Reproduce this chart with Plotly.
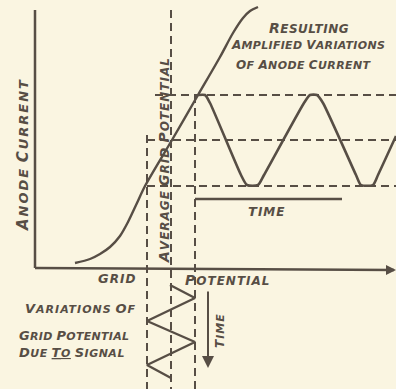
import plotly.graph_objects as go

# ---------------- data (diagram units: x = grid potential, y = anode current / time) ----------------
# valve characteristic (anode current vs grid potential)
curve_grid = [40, 55, 65, 75, 85, 93, 102, 110, 137, 163, 185, 198, 208, 215, 223]
curve_anode = [5, 9, 14, 21, 32, 46, 65, 82, 128, 173, 211, 235, 250, 257, 261]

# resulting amplified anode-current variations (time runs to the right)
out_time = [163, 170, 175, 206, 212, 223, 229, 269, 275, 282, 288, 321, 326, 338, 343, 361]
out_current = [173, 173, 165, 93, 83, 83, 93, 165, 173, 173, 165, 93, 83, 83, 93, 132]

# grid-potential variations due to signal (time runs downward)
sig_grid = [135, 160, 112, 160, 112, 136]
sig_time = [-17, -30, -53, -74, -97, -110]

# reference levels
grid_min, grid_avg, grid_max = 112, 136, 160
anode_min, anode_avg, anode_max = 82, 128, 173

INK = "#574e45"
BG = "#faf5e1"
FONT = "DejaVu Sans"

fig = go.Figure()

def line(xs, ys, dash=None, width=2.2, shape="linear", smoothing=1.0):
    fig.add_trace(go.Scatter(
        x=xs, y=ys, mode="lines", hoverinfo="skip", showlegend=False,
        line=dict(color=INK, width=width, dash=dash, shape=shape, smoothing=smoothing)))

DASH = "8px,5px"
# dashed guide lines
line([120, 361], [anode_max, anode_max], dash=DASH, width=2)
line([grid_min, 361], [anode_avg, anode_avg], dash=DASH, width=2)
line([grid_min, 361], [anode_min, anode_min], dash=DASH, width=2)
line([grid_min, grid_min], [133, -121], dash=DASH, width=2)
line([grid_avg, grid_avg], [258, -121], dash=DASH, width=2)
line([grid_max, grid_max], [anode_max, -121], dash=DASH, width=2)

# axes
line([0, 0], [258, 0], width=2.5)
line([0, 359], [0, -2], width=2.5)
# output time axis
line([grid_max, 307], [69, 69], width=2.3)

# curves
line(curve_grid, curve_anode, shape="spline", smoothing=0.8, width=2.4)
line(out_time, out_current, shape="spline", smoothing=0.6, width=2.6)
line(sig_grid, sig_time, width=2.4)

def sc(text, big, small, spacing, underline=()):
    out = []
    for w in text.split(" "):
        s = (f"<span style='font-size:{big}px;letter-spacing:{spacing}px'>{w[0]}</span>"
             f"<span style='font-size:{small}px;letter-spacing:{spacing}px'>{w[1:]}</span>")
        if w in underline:
            s = f"<u>{s}</u>"
        out.append(s)
    return " ".join(out)

def label(x, y, text, angle=0, big=14, small=12, spacing=0, underline=()):
    fig.add_annotation(x=x, y=y, text=sc(text, big, small, spacing, underline), showarrow=False,
                       textangle=angle, xanchor="center", yanchor="middle",
                       font=dict(family=FONT, size=small, color=INK, style="italic", weight="bold"))

label(274, 240, "RESULTING", big=14, small=12, spacing=0.5)
label(273, 223, "AMPLIFIED VARIATIONS", big=12, small=11, spacing=0.3)
label(269, 203, "OF ANODE CURRENT", big=12, small=11, spacing=0.4)
label(231, 57, "TIME", big=13, small=12, spacing=1)
label(82, -10, "GRID", big=13, small=12, spacing=1)
label(192, -12, "POTENTIAL", big=14, small=12, spacing=1)
label(45, -40, "VARIATIONS OF", big=13, small=11, spacing=1)
label(39, -67, "GRID POTENTIAL", big=13, small=11, spacing=0.3)
label(37, -84, "DUE TO SIGNAL", big=13, small=11, spacing=0.5, underline=("TO",))
label(-12, 113, "ANODE CURRENT", angle=-90, big=15, small=13, spacing=2)
label(129, 108, "AVERAGE GRID POTENTIAL", angle=-90, big=14, small=12, spacing=1)
label(185, -63, "TIME", angle=-90, big=12, small=11, spacing=1)

# arrows
fig.add_annotation(x=173, y=-100, ax=173, ay=-22, xref="x", yref="y", axref="x", ayref="y",
                   text="", showarrow=True, arrowhead=2, arrowsize=1.2, arrowwidth=2, arrowcolor=INK)
fig.add_annotation(x=361, y=-2, ax=340, ay=-2, xref="x", yref="y", axref="x", ayref="y",
                   text="", showarrow=True, arrowhead=2, arrowsize=1, arrowwidth=2, arrowcolor=INK)

fig.update_layout(
    width=396, height=389, margin=dict(l=0, r=0, t=0, b=0),
    paper_bgcolor=BG, plot_bgcolor=BG,
    xaxis=dict(range=[-35, 361], visible=False, fixedrange=True),
    yaxis=dict(range=[-121, 268], visible=False, fixedrange=True),
)

fig.write_html("out.html", config={"displayModeBar": False},
               post_script="document.body.style.margin='0px';document.body.style.background='%s';" % BG)
